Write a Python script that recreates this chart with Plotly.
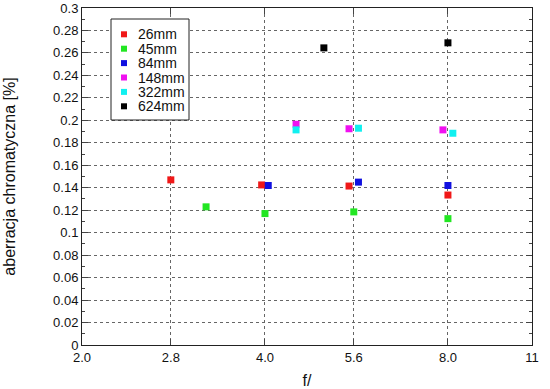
import plotly.graph_objects as go

series_names = ["26mm", "45mm", "84mm", "148mm", "322mm", "624mm"]
series_colors = ["#f01818", "#22e622", "#1010e0", "#f010f0", "#10f0f0", "#000000"]

x_26 = [2.8, 3.95, 5.5, 8.0]
y_26 = [0.147, 0.1425, 0.1415, 0.1335]
x_45 = [3.2, 4.0, 5.6, 8.0]
y_45 = [0.123, 0.117, 0.1185, 0.1125]
x_84 = [4.05, 5.7, 8.0]
y_84 = [0.142, 0.145, 0.142]
x_148 = [4.5, 5.5, 7.85]
y_148 = [0.1965, 0.1925, 0.1915]
x_322 = [4.5, 5.7, 8.15]
y_322 = [0.1915, 0.193, 0.1885]
x_624 = [5.0, 8.0]
y_624 = [0.2645, 0.269]

xs = [x_26, x_45, x_84, x_148, x_322, x_624]
ys = [y_26, y_45, y_84, y_148, y_322, y_624]

x_tickvals = [2.0, 2.8, 4.0, 5.6, 8.0, 11]
x_ticktext = ["2.0", "2.8", "4.0", "5.6", "8.0", "11"]
y_tickvals = [0, 0.02, 0.04, 0.06, 0.08, 0.1, 0.12, 0.14, 0.16, 0.18, 0.2, 0.22, 0.24, 0.26, 0.28, 0.3]
y_ticktext = ["0", "0.02", "0.04", "0.06", "0.08", "0.1", "0.12", "0.14", "0.16", "0.18", "0.2", "0.22", "0.24", "0.26", "0.28", "0.3"]

FONT = "Liberation Sans, Arial, sans-serif"

fig = go.Figure()
for name, color, x, y in zip(series_names, series_colors, xs, ys):
    fig.add_trace(go.Scatter(x=x, y=y, mode="markers", name=name,
                             marker=dict(symbol="square", size=7, color=color, line=dict(width=0))))

# Manual compact legend (paper coordinates relative to the plot area)
plot_w, plot_h = 450, 337
box_x0, box_x1 = 29 / plot_w, 107 / plot_w
box_y1, box_y0 = 326 / plot_h, 225 / plot_h
shapes = [dict(type="rect", xref="paper", yref="paper", x0=box_x0, x1=box_x1, y0=box_y0, y1=box_y1,
               line=dict(color="#222222", width=1), fillcolor="white", layer="above")]
annotations = []
first_row = 310.7 / plot_h
row_step = 14.4 / plot_h
mark_x = 42 / plot_w
text_x = 54 / plot_w
for i, (name, color) in enumerate(zip(series_names, series_colors)):
    yc = first_row - i * row_step
    shapes.append(dict(type="rect", xref="paper", yref="paper", xsizemode="pixel", ysizemode="pixel",
                       xanchor=mark_x, yanchor=yc, x0=-3, x1=3, y0=-3, y1=3,
                       fillcolor=color, line=dict(width=0), layer="above"))
    annotations.append(dict(xref="paper", yref="paper", x=text_x, y=yc, text=name, showarrow=False,
                            xanchor="left", yanchor="middle", font=dict(family=FONT, size=14, color="#111111")))

font = dict(family=FONT, size=13, color="#111111")
grid = dict(showgrid=True, gridcolor="#666666", griddash="dot", gridwidth=1)

fig.update_layout(
    width=550, height=389,
    margin=dict(l=82, r=18, t=8, b=44),
    paper_bgcolor="white", plot_bgcolor="white",
    font=font,
    showlegend=False,
    shapes=shapes,
    annotations=annotations,
    xaxis=dict(type="log", range=[0.30103, 1.041393], tickvals=x_tickvals, ticktext=x_ticktext,
               ticks="inside", ticklen=6, tickcolor="#444444", showline=True, linecolor="#222222",
               linewidth=1, mirror="allticks", zeroline=False, automargin=False,
               title=dict(text="f/", standoff=12), **grid),
    yaxis=dict(range=[0, 0.3], tickvals=y_tickvals, ticktext=y_ticktext,
               ticks="inside", ticklen=6, tickcolor="#444444", showline=True, linecolor="#222222",
               linewidth=1, mirror="allticks", zeroline=False, automargin=False,
               minor=dict(dtick=0.01, ticks="inside", ticklen=3, tickcolor="#444444", showgrid=False),
               title=dict(text="aberracja chromatyczna [%]", standoff=33), **grid),
)

fig.write_html("out.html", config={"displayModeBar": False},
               post_script="document.body.style.margin='0';")
